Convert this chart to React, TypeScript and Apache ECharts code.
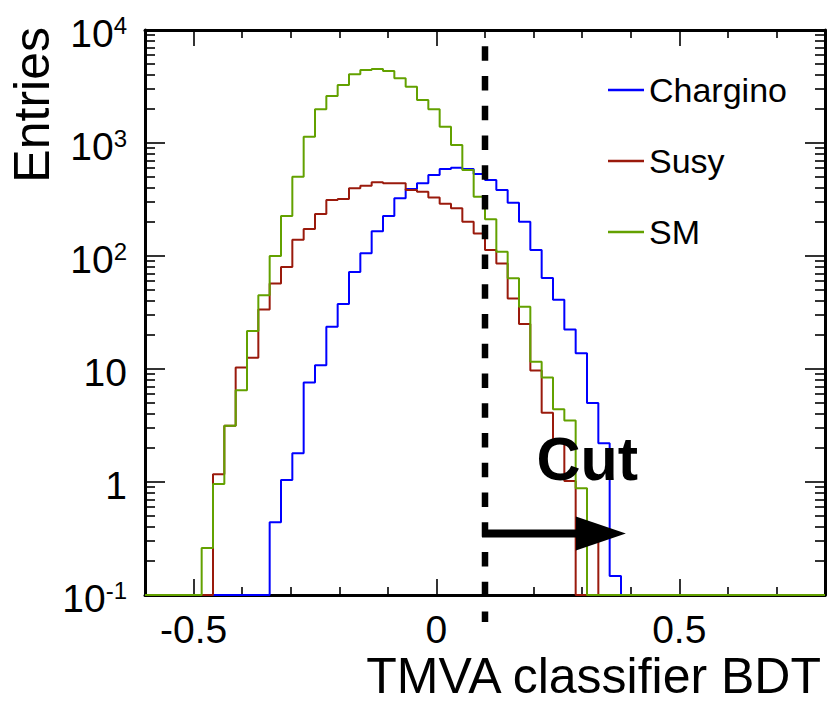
import React, { useEffect, useRef } from "react";
import * as echarts from "echarts";

// ---- data ----
const X_MIN = -0.6;
const X_MAX = 0.8;
const N_BINS = 60;
const Y_MIN = 0.1;
const Y_MAX = 10000;
const SERIES_NAMES = ["Chargino", "Susy", "SM"];
const SERIES_COLORS = ["#0000ff", "#9a1a0c", "#63a100"];

const chargino = [
  0, 0, 0, 0, 0, 0, 0, 0, 0, 0, 0,
  0.44, 1.04, 1.8, 7.6, 10.8, 23.7, 37.6, 72, 106, 166,
  226, 324, 392, 440, 521, 589, 605, 589, 532, 471,
  384, 296, 201, 113, 64, 41, 22.4, 13.8, 5.0, 2.2,
  0.147,
  0, 0, 0, 0, 0, 0, 0, 0, 0, 0, 0, 0, 0, 0, 0, 0, 0, 0,
];
const susy = [
  0, 0, 0, 0, 0, 0,
  1.17, 3.15, 10.3, 12.6, 33.7, 57, 80, 139, 173, 235,
  313, 319, 397, 419, 449, 440, 440, 384, 370, 330,
  290, 264, 201, 158, 113, 86, 42, 25, 9.7, 4.1,
  2.3, 1.02, 0, 0.35,
  0, 0, 0, 0, 0, 0, 0, 0, 0, 0, 0, 0, 0, 0, 0, 0, 0, 0, 0, 0,
];
const sm = [
  0, 0, 0, 0, 0,
  0.26, 0.96, 3.15, 6.5, 21.7, 45, 100, 226, 503, 1137,
  1987, 2606, 3260, 4055, 4424, 4520, 4340, 3737, 3150, 2404,
  1987, 1393, 960, 577, 335, 211, 109, 63.5, 35.6, 11.6,
  8.4, 4.4, 3.5, 0.88,
  0, 0, 0, 0, 0, 0, 0, 0, 0, 0, 0, 0, 0, 0, 0, 0, 0, 0, 0, 0, 0,
];
const SERIES_VALUES = [chargino, susy, sm];

const X_LABEL_VALUES = [-0.5, 0, 0.5];
const X_MINOR_STEP = 0.1;
const CUT_X = 0.1;
const ARROW_END_X = 0.39;
const ARROW_Y = 0.35;
const CUT_LABEL = "Cut";
const CUT_LABEL_X = 0.206;
const CUT_LABEL_Y = 1.6;
const X_TITLE = "TMVA classifier BDT";
const Y_TITLE = "Entries";

const FONT = "'Liberation Sans', Arial, Helvetica, sans-serif";

function histData(vals: number[]) {
  const w = (X_MAX - X_MIN) / N_BINS;
  const pts: number[][] = vals.map((v, i) => [X_MIN + i * w, Math.max(v, Y_MIN)]);
  pts.push([X_MAX, Math.max(vals[vals.length - 1], Y_MIN)]);
  return pts;
}

function xMinorValues() {
  const out: number[] = [];
  const n = Math.round((X_MAX - X_MIN) / X_MINOR_STEP);
  for (let i = 0; i <= n; i++) {
    const v = +(X_MIN + i * X_MINOR_STEP).toFixed(6);
    if (!X_LABEL_VALUES.some((m) => Math.abs(m - v) < 1e-6)) out.push(v);
  }
  return out;
}

function yMinorLogValues() {
  const out: number[] = [];
  const d0 = Math.round(Math.log10(Y_MIN));
  const d1 = Math.round(Math.log10(Y_MAX));
  for (let d = d0; d < d1; d++) {
    for (let m = 2; m <= 9; m++) out.push(Math.log10(m) + d);
  }
  return out;
}

const fmtY = (v: number) => {
  const e = Math.round(Math.log10(v));
  if (e === 0) return "1";
  if (e === 1) return "10";
  return `10{sup|${e}}`;
};

export default function App() {
  const ref = useRef<HTMLDivElement>(null);
  useEffect(() => {
    if (!ref.current) return;
    const chart = echarts.init(ref.current, null, { renderer: "svg" });
    const tickStyle = { color: "#000", width: 1.6 };
    const lineStyle = { color: "#000", width: 3 };
    const noSplit = { show: false };
    const lgMin = Math.log10(Y_MIN);
    const lgMax = Math.log10(Y_MAX);
    const minorY = yMinorLogValues();
    const minorX = xMinorValues();

    const option: any = {
      animation: false,
      backgroundColor: "#fff",
      textStyle: { fontFamily: FONT },
      grid: { left: 145, top: 30, width: 680, height: 565, containLabel: false },
      legend: {
        data: SERIES_NAMES,
        orient: "vertical",
        left: 603,
        top: 65,
        icon: "rect",
        itemWidth: 36,
        itemHeight: 2.5,
        itemGap: 31,
        selectedMode: false,
        textStyle: { fontSize: 34, fontFamily: FONT, color: "#000", lineHeight: 40, padding: [0, 0, 0, 0] },
      },
      xAxis: [
        {
          type: "value", min: X_MIN, max: X_MAX, position: "bottom",
          axisLine: { show: true, onZero: false, lineStyle },
          axisTick: { show: true, inside: true, length: 16, customValues: X_LABEL_VALUES, lineStyle: tickStyle },
          axisLabel: {
            show: true, customValues: X_LABEL_VALUES, margin: 15, fontSize: 39, color: "#000", fontFamily: FONT,
            formatter: (v: number) => (Math.abs(v) < 1e-9 ? "0" : String(v)),
          },
          splitLine: noSplit,
        },
        {
          type: "value", min: X_MIN, max: X_MAX, position: "bottom",
          axisLine: { show: false, onZero: false },
          axisTick: { show: true, inside: true, length: 8, customValues: minorX, lineStyle: tickStyle },
          axisLabel: { show: false },
          splitLine: noSplit,
        },
        {
          type: "value", min: X_MIN, max: X_MAX, position: "top",
          axisLine: { show: true, onZero: false, lineStyle },
          axisTick: { show: true, inside: true, length: 16, customValues: X_LABEL_VALUES, lineStyle: tickStyle },
          axisLabel: { show: false },
          splitLine: noSplit,
        },
        {
          type: "value", min: X_MIN, max: X_MAX, position: "top",
          axisLine: { show: false, onZero: false },
          axisTick: { show: true, inside: true, length: 8, customValues: minorX, lineStyle: tickStyle },
          axisLabel: { show: false },
          splitLine: noSplit,
        },
      ],
      yAxis: [
        {
          type: "log", logBase: 10, min: Y_MIN, max: Y_MAX, position: "left",
          axisLine: { show: true, onZero: false, lineStyle },
          axisTick: { show: true, inside: true, length: 20, lineStyle: tickStyle },
          axisLabel: {
            show: true, margin: 18, fontSize: 39, color: "#000", fontFamily: FONT,
            padding: [6, 0, 0, 0],
            formatter: fmtY,
            rich: { sup: { fontSize: 24, verticalAlign: "top", lineHeight: 20, fontFamily: FONT, color: "#000" } },
          },
          splitLine: noSplit,
        },
        {
          type: "value", min: lgMin, max: lgMax, position: "left",
          axisLine: { show: false, onZero: false },
          axisTick: { show: true, inside: true, length: 10, customValues: minorY, lineStyle: tickStyle },
          axisLabel: { show: false },
          splitLine: noSplit,
        },
        {
          type: "log", logBase: 10, min: Y_MIN, max: Y_MAX, position: "right",
          axisLine: { show: true, onZero: false, lineStyle },
          axisTick: { show: true, inside: true, length: 20, lineStyle: tickStyle },
          axisLabel: { show: false },
          splitLine: noSplit,
        },
        {
          type: "value", min: lgMin, max: lgMax, position: "right",
          axisLine: { show: false, onZero: false },
          axisTick: { show: true, inside: true, length: 10, customValues: minorY, lineStyle: tickStyle },
          axisLabel: { show: false },
          splitLine: noSplit,
        },
      ],
      series: SERIES_NAMES.map((name, i) => ({
        name,
        type: "line",
        step: "end",
        xAxisIndex: 0,
        yAxisIndex: 0,
        symbol: "none",
        color: SERIES_COLORS[i],
        itemStyle: { color: SERIES_COLORS[i] },
        lineStyle: { color: SERIES_COLORS[i], width: 2 },
        data: histData(SERIES_VALUES[i]),
        z: 3 + i,
      })),
    };
    chart.setOption(option);

    const p = (x: number, y: number) => chart.convertToPixel({ seriesIndex: 0 }, [x, y]) as number[];
    const top = p(CUT_X, Y_MAX);
    const bot = p(CUT_X, Y_MIN);
    const cx = top[0];
    const arrowStart = p(CUT_X, ARROW_Y);
    const arrowTip = p(ARROW_END_X, ARROW_Y);
    const headLen = 50;
    const headHalf = 17;
    const headBase = arrowTip[0] - headLen;
    const cutPos = p(CUT_LABEL_X, CUT_LABEL_Y);

    chart.setOption({
      graphic: [
        {
          type: "line", z: 50,
          shape: { x1: cx, y1: top[1] + 1.5, x2: cx, y2: bot[1] + 27 },
          style: { stroke: "#000", lineWidth: 6.5, lineDash: [14.5, 15.25], lineDashOffset: 14.5 },
        },
        {
          type: "line", z: 50,
          shape: { x1: arrowStart[0] - 3, y1: arrowStart[1], x2: headBase + 2, y2: arrowStart[1] },
          style: { stroke: "#000", lineWidth: 8 },
        },
        {
          type: "polygon", z: 50,
          shape: { points: [[headBase, arrowTip[1] - headHalf], [arrowTip[0], arrowTip[1]], [headBase, arrowTip[1] + headHalf]] },
          style: { fill: "#000" },
        },
        {
          type: "text", z: 60, x: cutPos[0], y: cutPos[1],
          style: { text: CUT_LABEL, fontSize: 61, fontWeight: "bold", fontFamily: FONT, fill: "#000", align: "left", verticalAlign: "middle" },
        },
        {
          type: "text", z: 60, x: 821, y: 676,
          style: { text: X_TITLE, fontSize: 50, fontFamily: FONT, fill: "#000", align: "right", verticalAlign: "middle" },
        },
        {
          type: "text", z: 60, x: 32, y: 27, rotation: Math.PI / 2,
          style: { text: Y_TITLE, fontSize: 50, fontFamily: FONT, fill: "#000", align: "right", verticalAlign: "middle" },
        },
      ],
    });

    return () => chart.dispose();
  }, []);
  return <div ref={ref} style={{ position: "fixed", left: 0, top: 0, width: 830, height: 704 }} />;
}
